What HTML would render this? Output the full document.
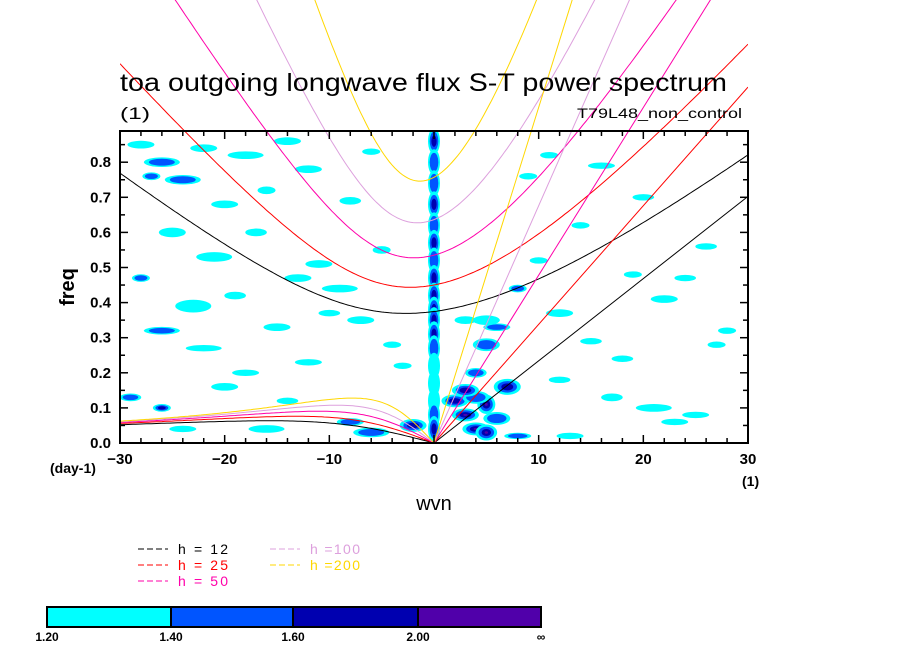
<!DOCTYPE html>
<html><head><meta charset="utf-8"><style>
body{margin:0;background:#fff;}
svg{display:block;font-family:"Liberation Sans",sans-serif;}
</style></head><body>
<svg id="c" width="904" height="654" viewBox="0 0 904 654">
<defs><clipPath id="cp"><rect x="120" y="0" width="628" height="443"/></clipPath>
<clipPath id="cp2"><rect x="120" y="131" width="628" height="312"/></clipPath></defs>
<g id="blobs" clip-path="url(#cp2)"></g>
<g id="curves" clip-path="url(#cp)"></g>
<g id="axes"></g>
<text x="120" y="91" font-size="25" textLength="607" lengthAdjust="spacingAndGlyphs">toa outgoing longwave flux S-T power spectrum</text>
<text x="120" y="119" font-size="17" textLength="30" lengthAdjust="spacingAndGlyphs">(1)</text>
<text x="742" y="118" font-size="14" text-anchor="end" textLength="165" lengthAdjust="spacingAndGlyphs">T79L48_non_control</text>
<text x="74" y="287" font-size="20" font-weight="bold" transform="rotate(-90 74 287)" text-anchor="middle">freq</text>
<text x="434" y="510" font-size="20" text-anchor="middle">wvn</text>
<text x="50" y="473" font-size="14" font-weight="bold">(day-1)</text>
<text x="742" y="486" font-size="14" font-weight="bold">(1)</text>
<g id="legend"></g>
<g id="cbar"></g>
</svg>
<script>
const hValues=[12,25,50,100,200];
const hColors=['#000000','#ff0000','#ff00aa','#dda0dd','#ffd700'];
const xTicks=[-30,-20,-10,0,10,20,30];
const yTicks=[0,0.1,0.2,0.3,0.4,0.5,0.6,0.7,0.8];
const levels=[1.2,1.4,1.6,2.0];
const levelLabels=['1.20','1.40','1.60','2.00','∞'];
const levelColors=['#00ffff','#0055ff','#0000b0','#5000aa'];
// blobs: wavenumber, freq, level index, half-width(wvn), half-height(freq)
const blobK=[-28,-26,-22,-18,-14,-24,-27,-20,-16,-12,-8,-6,-25,-21,-17,-13,-9,-5,-28,-23,-19,-11,-7,-26,-15,-10,-4,-22,-29,-18,-3,-26,-20,-14,-12,-8,-24,-16,-6,-2,2,3,4,5,6,7,5,4,3,6,8,10,12,15,18,22,26,14,20,24,9,11,16,21,25,28,5,8,13,17,23,27,12,19,4,3,5];
const blobF=[0.85,0.8,0.84,0.82,0.86,0.75,0.76,0.68,0.72,0.78,0.69,0.83,0.6,0.53,0.6,0.47,0.44,0.55,0.47,0.39,0.42,0.51,0.35,0.32,0.33,0.37,0.28,0.27,0.13,0.2,0.22,0.1,0.16,0.12,0.23,0.06,0.04,0.04,0.03,0.05,0.12,0.08,0.04,0.03,0.07,0.16,0.28,0.2,0.35,0.33,0.44,0.52,0.37,0.29,0.24,0.41,0.56,0.62,0.7,0.47,0.76,0.82,0.79,0.1,0.08,0.32,0.11,0.02,0.02,0.13,0.06,0.28,0.18,0.48,0.13,0.15,0.35];
const blobL=[0,1,0,0,0,1,1,0,0,0,0,0,0,0,0,0,0,0,1,0,0,0,0,1,0,0,0,0,1,0,0,2,0,0,0,1,0,0,1,2,2,3,3,3,1,2,1,1,0,1,1,0,0,0,0,0,0,0,0,0,0,0,0,0,0,0,3,1,0,0,0,0,0,0,1,2,0];
const blobW=[1.5,2,1.5,2,1.5,2,1,1.5,1,1.5,1.2,1,1.5,2,1.2,1.5,2,1,1,2,1.2,1.5,1.5,2,1.5,1.2,1,2,1.2,1.5,1,1,1.5,1.2,1.5,1.5,1.5,2,2,1.5,1.5,1.5,1.5,1.2,1.5,1.5,1.5,1.2,1.2,1.5,1,1,1.5,1.2,1.2,1.5,1.2,1,1.2,1.2,1,1,1.5,2,1.5,1,1,1.5,1.5,1.2,1.5,1,1.2,1,1.5,1.5,1.5];
const blobH=[0.012,0.015,0.012,0.012,0.012,0.015,0.012,0.012,0.012,0.012,0.012,0.01,0.015,0.015,0.012,0.012,0.012,0.012,0.012,0.02,0.012,0.012,0.012,0.012,0.012,0.01,0.01,0.01,0.012,0.01,0.01,0.012,0.012,0.01,0.01,0.012,0.01,0.012,0.015,0.02,0.02,0.02,0.02,0.025,0.02,0.025,0.02,0.015,0.012,0.012,0.012,0.01,0.012,0.01,0.01,0.012,0.01,0.01,0.01,0.01,0.01,0.01,0.01,0.012,0.01,0.01,0.03,0.01,0.01,0.012,0.01,0.01,0.01,0.01,0.02,0.02,0.015];
const colK=[0,0,0,0,0,0,0,0,0,0,0,0,0,0,0,0,0,0];
const colF=[0.86,0.8,0.74,0.68,0.62,0.57,0.52,0.47,0.42,0.38,0.35,0.31,0.27,0.22,0.17,0.12,0.08,0.04];
const colL=[2,1,1,2,1,2,1,2,2,3,2,2,1,0,0,0,1,2];

const NS='http://www.w3.org/2000/svg';
const X=k=>434+(k)*628/60;
const Y=f=>443-f*351/1.0;
function mk(tag,attrs,parent){const e=document.createElementNS(NS,tag);for(const a in attrs)e.setAttribute(a,attrs[a]);document.getElementById(parent).appendChild(e);return e;}

for(let i=0;i<blobK.length;i++){
  for(let l=0;l<=blobL[i];l++){
    const s=1-l*0.28;
    const e=mk('ellipse',{cx:X(blobK[i]),cy:Y(blobF[i]),rx:blobW[i]*9*s,ry:blobH[i]*320*s,fill:levelColors[l]},'blobs');
    
    
  }
}
for(let i=0;i<colK.length;i++){
  for(let l=0;l<=colL[i];l++){
    const s=1-l*0.28;
    const e=mk('ellipse',{cx:X(colK[i]),cy:Y(colF[i]),rx:6*s,ry:13*s,fill:levelColors[l]},'blobs');
    
    
  }
}

const g=9.81,a=6.371e6,beta=2.28e-11,cpd=86400/(2*Math.PI);
function solveIG(k,c){let w=Math.sqrt(3*beta*c+c*c*k*k);for(let i=0;i<30;i++){const F=w*w/(c*c)-k*k-beta*k/w-3*beta/c;const d=2*w/(c*c)+beta*k/(w*w);w-=F/d;}return w;}
function solveER(k,c){let w=-beta*k/(k*k+3*beta/c);for(let i=0;i<30;i++){const F=w*w/(c*c)-k*k-beta*k/w-3*beta/c;const d=2*w/(c*c)+beta*k/(w*w);w-=F/d;}return w;}
hValues.forEach((h,hi)=>{
  const c=Math.sqrt(g*h);
  let ig='',er='';
  for(let s=-30;s<=30.001;s+=0.25){const k=s/a;const f=solveIG(k,c)*cpd;ig+=(ig?'L':'M')+X(s).toFixed(1)+' '+Y(f).toFixed(1);}
  for(let s=-30;s<=-0.05;s+=0.25){const k=s/a;const f=solveER(k,c)*cpd;er+=(er?'L':'M')+X(s).toFixed(1)+' '+Y(f).toFixed(1);}
  er+='L'+X(0)+' '+Y(0);
  const kf=c*30/a*cpd;
  const p1=mk('path',{d:ig,fill:'none',stroke:hColors[hi],'stroke-width':1},'curves');
  
  
  const p2=mk('path',{d:er,fill:'none',stroke:hColors[hi],'stroke-width':1},'curves');
  
  
  const p3=mk('line',{x1:X(0),y1:Y(0),x2:X(30),y2:Y(kf),stroke:hColors[hi],'stroke-width':1},'curves');
  
  
});

const fr=mk('rect',{x:120,y:131,width:628,height:312,fill:'none',stroke:'#000','stroke-width':2},'axes');


for(let s=-30;s<=30;s+=2){const big=s%10===0;
  mk('line',{x1:X(s),y1:443,x2:X(s),y2:443-(big?8:5),stroke:'#000','stroke-width':1.5},'axes');
  mk('line',{x1:X(s),y1:131,x2:X(s),y2:131+(big?8:5),stroke:'#000','stroke-width':1.5},'axes');}
for(let f=0;f<=0.88;f+=0.05){const big=Math.round(f*100)%10===0;
  mk('line',{x1:120,y1:Y(f),x2:120+(big?8:5),y2:Y(f),stroke:'#000','stroke-width':1.5},'axes');
  mk('line',{x1:748,y1:Y(f),x2:748-(big?8:5),y2:Y(f),stroke:'#000','stroke-width':1.5},'axes');}
xTicks.forEach(t=>{const e=mk('text',{x:X(t),y:464,'font-size':15,'font-weight':'bold','text-anchor':'middle'},'axes');e.textContent=(t<0?'−':'')+Math.abs(t);
  
  });
yTicks.forEach(t=>{const e=mk('text',{x:111,y:Y(t)+5,'font-size':15,'font-weight':'bold','text-anchor':'end'},'axes');e.textContent=t.toFixed(1);
  
  });

const legPos=[[138,549],[138,565],[138,581],[270,549],[270,565]];
hValues.forEach((h,i)=>{const [lx,ly]=legPos[i];
  const l=mk('line',{x1:lx,y1:ly,x2:lx+30,y2:ly,stroke:hColors[i],'stroke-dasharray':'6 3'},'legend');
  
  
  const t=mk('text',{x:lx+40,y:ly+5,'font-size':14,fill:hColors[i],textLength:50,lengthAdjust:'spacing'},'legend');
  t.textContent=h>=100?'h ='+h:'h = '+h;
  
  });

const cbX=[47,171,293,418,541];
levelColors.forEach((c,i)=>{const r=mk('rect',{x:cbX[i],y:607,width:cbX[i+1]-cbX[i],height:20,fill:c,stroke:'#000','stroke-width':2},'cbar');
  
  });
levelLabels.forEach((s,i)=>{const t=mk('text',{x:cbX[i],y:641,'font-size':12,'font-weight':'bold','text-anchor':'middle'},'cbar');t.textContent=s;
  
  });
</script>
</body></html>
